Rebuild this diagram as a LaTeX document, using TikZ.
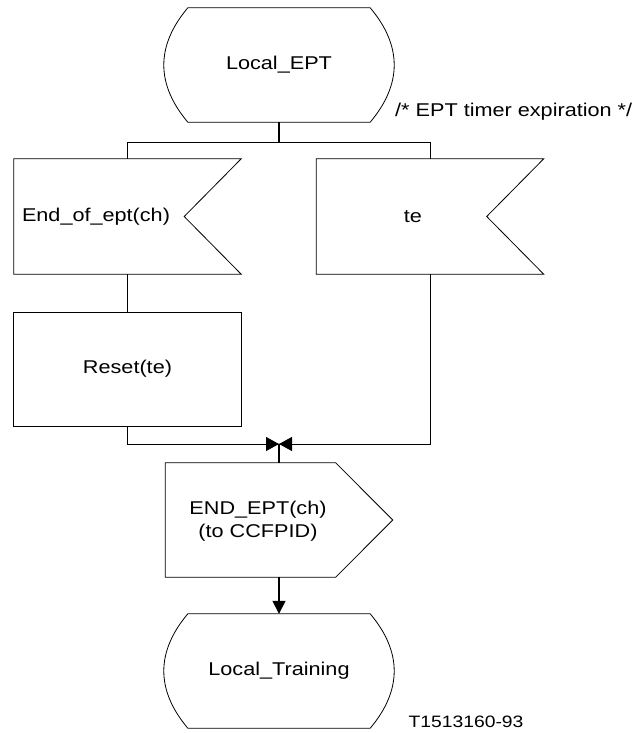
\documentclass[tikz,border=0pt]{standalone}
\usepackage{fontspec}
\setmainfont{Liberation Sans}[FakeStretch=1.17]
\usetikzlibrary{arrows.meta}

\begin{document}
\begin{tikzpicture}[
    x=1pt, y=-1pt,
    every node/.style={inner sep=0pt, font=\fontsize{18.5pt}{23pt}\selectfont},
    state/.style={minimum width=228pt, minimum height=114pt},
    input/.style={minimum width=227pt, minimum height=115pt},
    task/.style={rectangle, draw, line width=0.9pt, minimum width=228pt, minimum height=114pt},
    output/.style={minimum width=227pt, minimum height=114pt},
    outline/.style={line width=0.8pt, line join=miter},
    line/.style={line width=0.9pt},
    flow/.style={line width=1.6pt},
    tip/.style={-{Triangle[length=13pt,width=14pt]}}
]

\path[use as bounding box, fill=white] (0,0) rectangle (642,733);

% Start state
\node[state] (ept) at (279,65) {Local\_EPT};

% Comment
\node[anchor=west] (cmt) at (395,112) {/* EPT timer expiration */};

% Inputs
\node[input] (endept) at (127.5,216.5) {};
\node[anchor=west] (endept-txt) at ([xshift=8pt]endept.west) {End\_of\_ept(ch)};
\node[input] (te) at (430,216.5) {};
\node (te-txt) at ([xshift=-17pt]te.center) {te};

% Task
\node[task] (reset) at (127.5,369) {Reset(te)};

% Output
\node[output] (out) at (279,520) {};
\node[align=center] (out-txt) at (258,521) {END\_EPT(ch)\\(to CCFPID)};

% Next state
\node[state] (training) at (279,671) {Local\_Training};

% Figure number
\node (fignum) at (466,722) {\fontsize{16.5pt}{20pt}\selectfont T1513160-93};

% Outlines
\foreach \s in {ept,training} {
  \draw[outline] ([xshift=23pt]\s.north west) -- ([xshift=-23pt]\s.north east)
    .. controls +(32,38) and +(32,-38) .. ([xshift=-23pt]\s.south east)
    -- ([xshift=23pt]\s.south west)
    .. controls +(-32,-38) and +(-32,38) .. ([xshift=23pt]\s.north west) -- cycle;
}
\foreach \s in {endept,te} {
  \draw[outline] (\s.north west) -- (\s.north east) -- ([xshift=-57pt]\s.east)
    -- (\s.south east) -- (\s.south west) -- cycle;
}
\draw[outline] (out.north west) -- ([xshift=-57pt]out.north east) -- (out.east)
  -- ([xshift=-57pt]out.south east) -- (out.south west) -- cycle;

% Connectors
\coordinate (fork) at (279,142);
\coordinate (merge) at (279,444);
\draw[flow] (ept.south) -- (fork);
\draw[line] (fork) -| (endept.north);
\draw[line] (fork) -| (te.north);
\draw[line] (endept.south) -- (reset.north);
\draw[line,tip] (reset.south) |- (merge);
\draw[line,tip] (te.south) |- (merge);
\draw[flow] (merge) -- (out.north);
\draw[flow,-{Triangle[length=13pt,width=13pt]}] (out.south) -- (training.north);

\end{tikzpicture}
\end{document}
